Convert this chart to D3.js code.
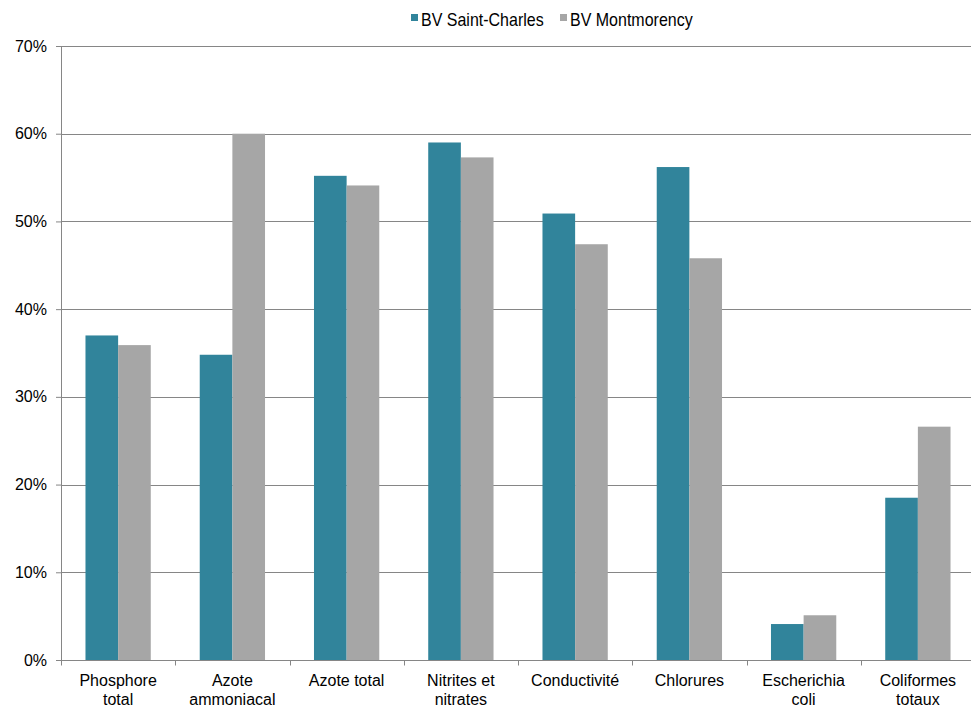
<!DOCTYPE html>
<html>
<head>
<meta charset="utf-8">
<script src="https://cdn.jsdelivr.net/npm/d3@7"></script>
<style>
  body { margin: 0; background: #fff; }
  svg text { font-family: "Liberation Sans", Arial, sans-serif; fill: #000; }
</style>
</head>
<body>
<svg id="graph" width="971" height="707"></svg>
<script>
// Categories (multi-line labels)
const categories = [
  ["Phosphore", "total"],
  ["Azote", "ammoniacal"],
  ["Azote total"],
  ["Nitrites et", "nitrates"],
  ["Conductivité"],
  ["Chlorures"],
  ["Escherichia", "coli"],
  ["Coliformes", "totaux"]
];

const seriesNames = ["BV Saint-Charles", "BV Montmorency"];

// Values in %
const saintCharles = [37.0, 34.8, 55.2, 59.0, 50.9, 56.2, 4.1, 18.5];
const montmorency = [35.9, 60.0, 54.1, 57.3, 47.4, 45.8, 5.1, 26.6];

const yTicks = [0, 10, 20, 30, 40, 50, 60, 70];

/**
 * Draw chart
 */
const drawChart = () => {
  const svg = d3.select("#graph"),
    margin = {top: 46, right: -4, bottom: 47, left: 61},
    width = svg.attr("width") - margin.left - margin.right,
    height = svg.attr("height") - margin.top - margin.bottom;

  const colors = ["#31849b", "#a6a6a6"];
  const keys = categories.map((c, i) => i);

  const x = d3.scaleBand().domain(keys).range([0, width]).paddingInner(0).paddingOuter(0);
  // Excel gap width 150% -> bar = step / 3.5
  const barW = x.step() / 3.5;

  const y = d3.scaleLinear().domain([0, 70]).range([height, 0]);

  const g = svg.append("g")
    .attr("transform", "translate(" + margin.left + "," + margin.top + ")");

  // Gridlines
  g.append("g")
    .selectAll("line")
    .data(yTicks.filter(d => d > 0))
    .join("line")
    .attr("x1", 0)
    .attr("x2", width)
    .attr("y1", d => Math.round(y(d)) + 0.5)
    .attr("y2", d => Math.round(y(d)) + 0.5)
    .attr("stroke", "#868686")
    .attr("stroke-width", 1);

  // Bars
  const data = [saintCharles, montmorency];
  data.forEach((vals, s) => {
    g.append("g")
      .selectAll("rect")
      .data(vals)
      .join("rect")
      .attr("x", (d, i) => x(i) + x.bandwidth() / 2 - barW + s * barW)
      .attr("y", d => y(d))
      .attr("width", barW)
      .attr("height", d => y(0) - y(d))
      .attr("fill", colors[s]);
  });

  // Y axis
  const yAxis = g.append("g")
    .call(d3.axisLeft(y).tickValues(yTicks).tickSize(5).tickPadding(9).tickFormat(d => d + "%"));
  yAxis.select(".domain").attr("stroke", "#868686").attr("d", "M0.5," + height + "V0");
  yAxis.selectAll(".tick line").attr("stroke", "#868686");
  yAxis.selectAll(".tick text")
    .style("font-size", "16px")
    .attr("font-family", null);

  // X axis
  const xAxisG = g.append("g").attr("transform", `translate(0, ${Math.round(height) + 0.5})`);
  xAxisG.append("line")
    .attr("x1", 0).attr("x2", width)
    .attr("stroke", "#868686");
  xAxisG.selectAll(".xtick")
    .data(keys)
    .join("line")
    .attr("class", "xtick")
    .attr("x1", d => Math.round(x(d)) + 0.5)
    .attr("x2", d => Math.round(x(d)) + 0.5)
    .attr("y1", 0)
    .attr("y2", 5)
    .attr("stroke", "#868686");

  // X labels
  const labels = g.append("g")
    .selectAll("text")
    .data(categories)
    .join("text")
    .attr("x", (d, i) => x(i) + x.bandwidth() / 2)
    .attr("y", height + 26)
    .style("text-anchor", "middle")
    .style("font-size", "16px");
  labels.selectAll("tspan")
    .data(d => d)
    .join("tspan")
    .attr("x", function () { return this.parentNode.getAttribute("x"); })
    .attr("dy", (d, i) => i === 0 ? 0 : 18.5)
    .text(d => d);

  // Legend
  const legend = svg.append("g").attr("transform", "translate(411, 18)");
  const lx = [0, 149];
  seriesNames.forEach((name, i) => {
    legend.append("rect")
      .attr("x", lx[i])
      .attr("y", -4)
      .attr("width", 7)
      .attr("height", 7)
      .attr("fill", colors[i]);
    legend.append("text")
      .attr("transform", `translate(${lx[i] + 10}, 7.5) scale(1, 1.15)`)
      .style("font-size", "16px")
      .text(name);
  });
};

drawChart();
</script>
</body>
</html>
